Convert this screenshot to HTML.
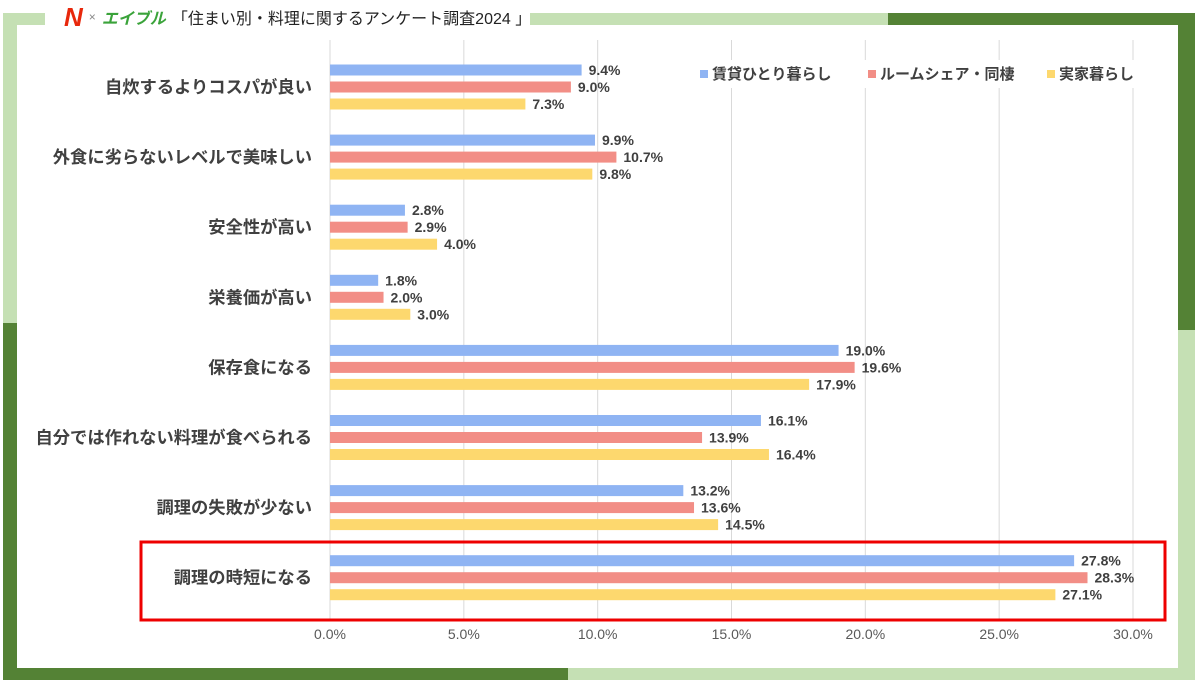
<!DOCTYPE html>
<html><head><meta charset="utf-8"><style>
body{margin:0;width:1201px;height:686px;background:#fff;overflow:hidden;font-family:"Liberation Sans","Noto Sans CJK JP",sans-serif}
.b{position:absolute}
</style></head><body>
<div class="b" style="left:3px;top:13px;width:42px;height:12px;background:#c5e0b4"></div>
<div class="b" style="left:530px;top:13px;width:358px;height:12px;background:#c5e0b4"></div>
<div class="b" style="left:888px;top:13px;width:307px;height:12px;background:#548235"></div>
<div class="b" style="left:1178px;top:13px;width:17px;height:317px;background:#548235"></div>
<div class="b" style="left:1178px;top:330px;width:17px;height:350px;background:#c5e0b4"></div>
<div class="b" style="left:3px;top:13px;width:14px;height:310px;background:#c5e0b4"></div>
<div class="b" style="left:3px;top:323px;width:14px;height:357px;background:#548235"></div>
<div class="b" style="left:3px;top:668px;width:565px;height:12px;background:#548235"></div>
<div class="b" style="left:568px;top:668px;width:627px;height:12px;background:#c5e0b4"></div>
<div class="b" style="left:64px;top:2px;height:30px;display:flex;align-items:center;gap:6px;font-size:16px;color:#222">
<span style="color:#e8280c;font-weight:bold;font-style:italic;font-size:26px;line-height:26px">N</span>
<span style="color:#888;font-size:12px">×</span>
<span style="color:#3aa33a;font-weight:bold;font-style:italic;font-size:16px">エイブル</span>
<span>「住まい別・料理に関するアンケート調査2024 」</span>
</div>
<svg id="c" class="b" style="left:0;top:0" width="1201" height="686"></svg>
<script>
const categories=["自炊するよりコスパが良い","外食に劣らないレベルで美味しい","安全性が高い","栄養価が高い","保存食になる","自分では作れない料理が食べられる","調理の失敗が少ない","調理の時短になる"];
const seriesNames=["賃貸ひとり暮らし","ルームシェア・同棲","実家暮らし"];
const rental=[9.4,9.9,2.8,1.8,19.0,16.1,13.2,27.8];
const share=[9.0,10.7,2.9,2.0,19.6,13.9,13.6,28.3];
const family=[7.3,9.8,4.0,3.0,17.9,16.4,14.5,27.1];
const ticks=[0,5,10,15,20,25,30];
const colors=["#8fb4f3","#f28e86","#fdd86e"];
const NS="http://www.w3.org/2000/svg";
const svg=document.getElementById('c');
const x=v=>330+v*(1133-330)/30;
const yc=i=>87+i*70.1;
function mk(t,a){const e=document.createElementNS(NS,t);for(const k in a)e.setAttribute(k,a[k]);svg.appendChild(e);return e;}
ticks.forEach(t=>{
 const g=mk('line',{x1:x(t),x2:x(t),y1:40,y2:620,stroke:'#d9d9d9','stroke-width':1});
 
 
 const l=mk('text',{x:x(t),y:639,'text-anchor':'middle','font-size':14,fill:'#595959'});
 l.textContent=t.toFixed(1)+'%';
 
 
});
const all=[rental,share,family];
categories.forEach((c,i)=>{
 const l=mk('text',{x:312,y:yc(i)+6,'text-anchor':'end','font-size':17.3,'font-weight':'bold',fill:'#404040'});
 l.textContent=c;
 
 
 all.forEach((s,j)=>{
  const cy=yc(i)+(j-1)*17;
  const r=mk('rect',{x:x(0),y:cy-5.5,width:x(s[i])-x(0),height:11,fill:colors[j]});
  
  
  const v=mk('text',{x:x(s[i])+7,y:cy+5,'font-size':14,'font-weight':'bold',fill:'#404040'});
  v.textContent=s[i].toFixed(1)+'%';
  
  
 });
});
const lg=mk('rect',{x:692,y:60,width:455,height:28,fill:'#fff'});


const lx=[700,868,1047];
seriesNames.forEach((n,j)=>{
 const s=mk('rect',{x:lx[j],y:70,width:8,height:8,fill:colors[j]});
 
 
 const t=mk('text',{x:lx[j]+12,y:79,'font-size':15,'font-weight':'bold',fill:'#404040'});
 t.textContent=n;
 
 
});
const hb=mk('rect',{x:141,y:542,width:1024,height:78,fill:'none',stroke:'#ee0000','stroke-width':3});


</script>
</body></html>
